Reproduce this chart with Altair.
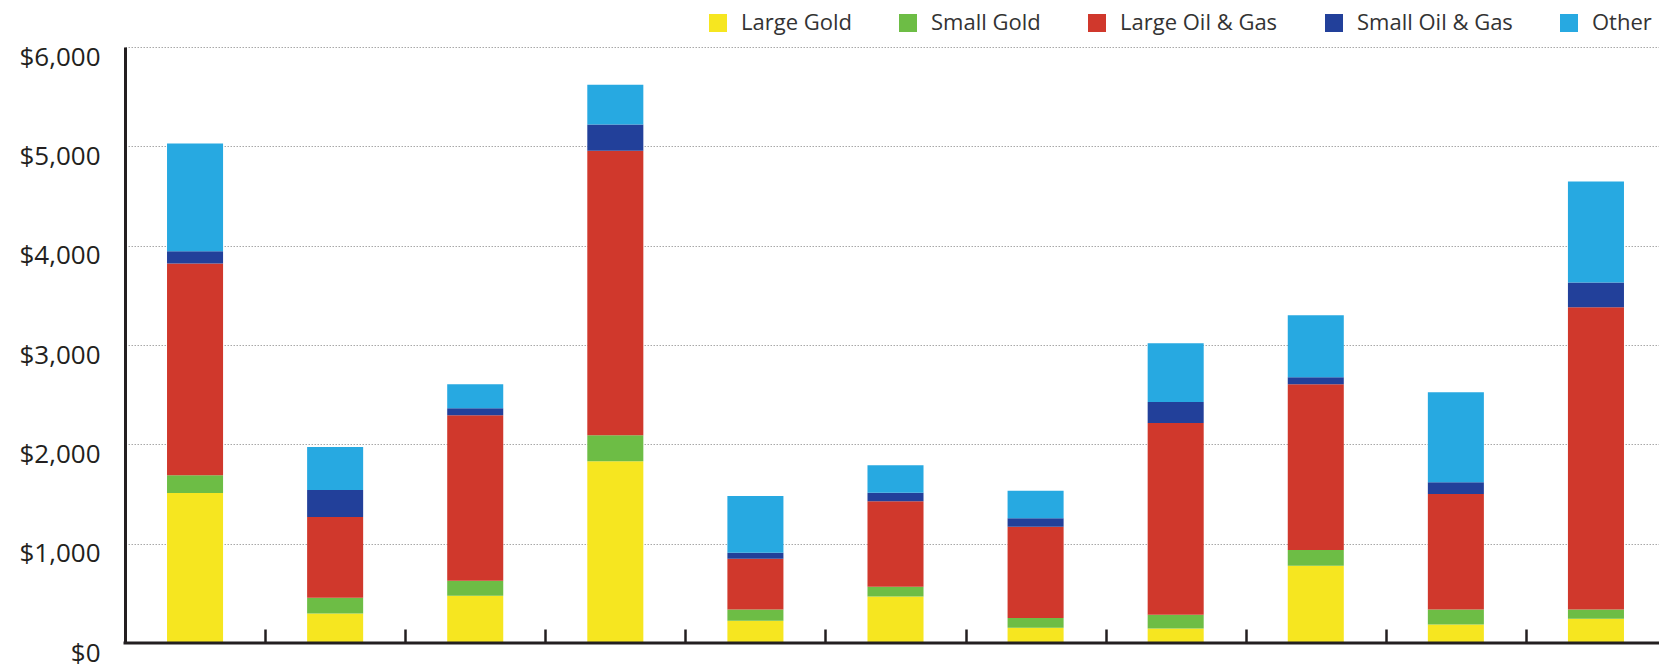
import altair as alt
import pandas as pd

# Eleven unlabeled groups, each a stack of five segments (values in $)
groups = ["g01", "g02", "g03", "g04", "g05", "g06", "g07", "g08", "g09", "g10", "g11"]
series = ["Large Gold", "Small Gold", "Large Oil & Gas", "Small Oil & Gas", "Other"]

large_gold = [1510, 296, 475, 1830, 224, 467, 153, 145, 777, 185, 244]
small_gold = [180, 159, 151, 262, 112, 99, 99, 139, 159, 151, 92]
large_oil_gas = [2130, 814, 1668, 2864, 512, 862, 918, 1931, 1668, 1164, 3043]
small_oil_gas = [123, 271, 68, 263, 60, 84, 87, 210, 72, 119, 250]
other = [1085, 433, 242, 401, 572, 278, 275, 592, 624, 906, 1017]

colors = ["#f6e620", "#6dbd45", "#d0382c", "#22409a", "#27a9e1"]
y_ticks = [0, 1000, 2000, 3000, 4000, 5000, 6000]

rows = []
for idx, (name, vals) in enumerate(
    zip(series, [large_gold, small_gold, large_oil_gas, small_oil_gas, other])
):
    for g, v in zip(groups, vals):
        rows.append({"group": g, "series": name, "stack_order": idx, "value": v})
df = pd.DataFrame(rows)

PLOT_W, PLOT_H = 1534, 596
BAND_SPAN = 1541
INK = "#231f20"
FONT = "Open Sans"

# Bars take 40% of each band; band edges (ticks) fall midway between bars
bars = alt.Chart(df).mark_bar(width=alt.RelativeBandSize(0.4)).encode(
    x=alt.X(
        "group:N",
        sort=groups,
        scale=alt.Scale(range=[0, BAND_SPAN], paddingInner=0, paddingOuter=0),
        axis=alt.Axis(
            title=None,
            labels=False,
            domain=False,
            grid=False,
            ticks=True,
            tickSize=14,
            tickWidth=2.5,
            tickColor=INK,
            tickBand="extent",
            offset=-14,
        ),
    ),
    y=alt.Y(
        "value:Q",
        stack="zero",
        scale=alt.Scale(domain=[0, 6000], nice=False),
        axis=alt.Axis(
            title=None,
            values=y_ticks,
            format="$,.0f",
            grid=True,
            gridDash=[1.5, 1.5],
            gridColor="#a8a8a8",
            gridWidth=1,
            domain=True,
            domainWidth=3,
            domainColor=INK,
            ticks=False,
            tickSize=0,
            labelPadding=25,
            labelBaseline="top",
            labelOffset=-3,
            labelFontSize=26,
            labelFont=FONT,
            labelColor=INK,
        ),
    ),
    color=alt.Color(
        "series:N",
        scale=alt.Scale(domain=series, range=colors),
        legend=alt.Legend(
            title=None,
            orient="none",
            legendX=582,
            legendY=-35,
            direction="horizontal",
            columns=5,
            symbolType="square",
            symbolSize=324,
            symbolStrokeWidth=0,
            symbolOpacity=1,
            labelFont=FONT,
            labelFontSize=22,
            labelColor="#333333",
            labelOffset=12,
            labelLimit=0,
            columnPadding=45,
            padding=0,
        ),
    ),
    order=alt.Order("stack_order:Q", sort="ascending"),
)

baseline = alt.Chart(pd.DataFrame({"zero": [0]})).mark_rule(
    color=INK, strokeWidth=3
).encode(y="zero:Q", x=alt.value(-1.5), x2=alt.value(PLOT_W))

chart = (
    alt.layer(bars, baseline)
    .properties(
        width=PLOT_W,
        height=PLOT_H,
        autosize=alt.AutoSizeParams(type="none"),
        padding={"left": 125, "top": 47, "right": 0, "bottom": 26},
    )
    .configure_view(stroke=None)
)

chart.save("out.html", embed_options={"renderer": "svg", "actions": False})
